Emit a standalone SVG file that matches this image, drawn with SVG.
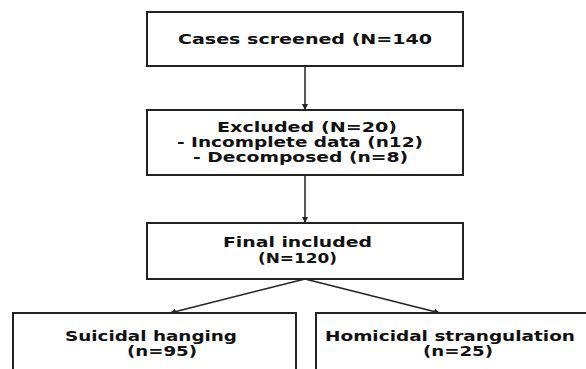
<svg xmlns="http://www.w3.org/2000/svg" width="586" height="369" viewBox="0 0 586 369">
<style>
.box{fill:#fff;stroke:#222;stroke-width:2}
.t{font-family:"DejaVu Sans",sans-serif;font-weight:bold;font-size:14px;fill:#111}
.c{stroke:#222;stroke-width:1.5;fill:none}
</style>
<defs>
<marker id="ah" viewBox="0 0 10 10" refX="10" refY="5" markerWidth="6" markerHeight="6" orient="auto" markerUnits="userSpaceOnUse">
<path d="M0,0 L10,5 L0,10 z" fill="#222"/>
</marker>
</defs>
<rect width="586" height="369" fill="#fff"/>
<g id="connectors">
<line class="c" x1="305" y1="66" x2="305" y2="110" marker-end="url(#ah)"/>
<line class="c" x1="305" y1="175" x2="305" y2="223" marker-end="url(#ah)"/>
<line class="c" x1="305" y1="279" x2="170" y2="313" marker-end="url(#ah)"/>
<line class="c" x1="305" y1="279" x2="440" y2="313" marker-end="url(#ah)"/>
</g>
<g id="screened">
<rect class="box" x="147" y="12" width="316" height="54"/>
<text class="t" x="178" y="44" textLength="254" lengthAdjust="spacingAndGlyphs">Cases screened (N=140</text>
</g>
<g id="excluded">
<rect class="box" x="147" y="110" width="316" height="65"/>
<text class="t" x="217" y="132" textLength="180" lengthAdjust="spacingAndGlyphs">Excluded (N=20)</text>
<text class="t" x="177" y="147" textLength="246" lengthAdjust="spacingAndGlyphs">- Incomplete data (n12)</text>
<text class="t" x="193" y="162" textLength="215" lengthAdjust="spacingAndGlyphs">- Decomposed (n=8)</text>
</g>
<g id="included">
<rect class="box" x="147" y="223" width="316" height="56"/>
<text class="t" x="223" y="247" textLength="149" lengthAdjust="spacingAndGlyphs">Final included</text>
<text class="t" x="258" y="263" textLength="79" lengthAdjust="spacingAndGlyphs">(N=120)</text>
</g>
<g id="suicidal">
<rect class="box" x="13" y="313" width="283" height="70"/>
<text class="t" x="65" y="341" textLength="172" lengthAdjust="spacingAndGlyphs">Suicidal hanging</text>
<text class="t" x="127" y="356" textLength="70" lengthAdjust="spacingAndGlyphs">(n=95)</text>
</g>
<g id="homicidal">
<rect class="box" x="316" y="313" width="280" height="70"/>
<text class="t" x="325" y="341" textLength="250" lengthAdjust="spacingAndGlyphs">Homicidal strangulation</text>
<text class="t" x="423" y="356" textLength="70" lengthAdjust="spacingAndGlyphs">(n=25)</text>
</g>
</svg>
